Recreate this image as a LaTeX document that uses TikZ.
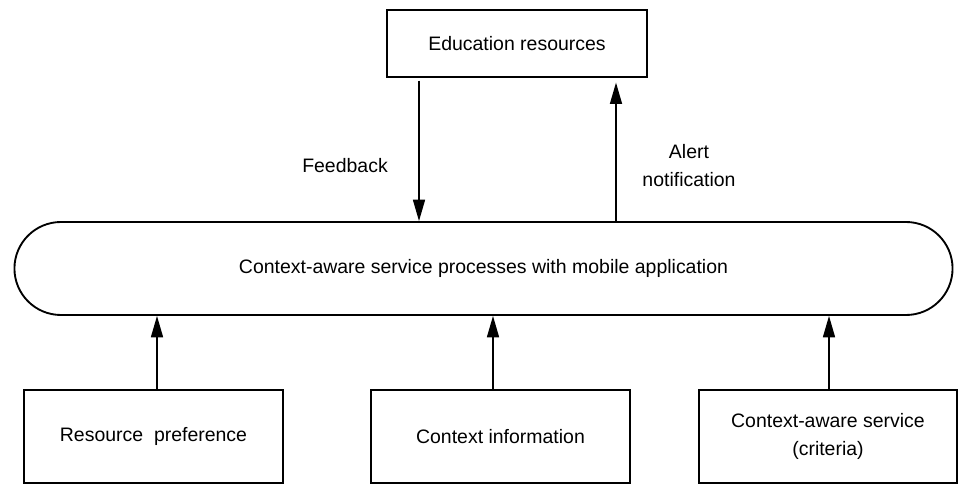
\documentclass[tikz,border=0pt]{standalone}
\usepackage{fontspec}
\setmainfont{Liberation Sans}
\usetikzlibrary{arrows.meta,shapes.misc}
\begin{document}
\begin{tikzpicture}[x=0.75pt,y=-0.75pt,
  every node/.style={font=\fontsize{14.6}{21}\selectfont},
  box/.style={draw,line width=1.4pt,inner sep=0pt,align=center,minimum width=194.25pt,minimum height=69.75pt},
  arr/.style={-{Triangle[length=16pt,width=9pt]},line width=1.1pt}]
\useasboundingbox (0,0) rectangle (958,484);
\node[box,minimum width=195pt,minimum height=50.25pt] (edu) at (517,43.5) {Education resources};
\node[draw,line width=1.4pt,rounded rectangle,minimum width=710.25pt,minimum height=69.75pt] (proc) at (483.5,268.5) {Context-aware service processes with mobile application};
\node[box] (pref) at (153.5,436.5) {Resource\ \ preference};
\node[box] (ctx) at (500.5,436.5) {Context information};
\node[box,minimum width=193.5pt] (crit) at (828,436.5) {Context-aware service\\(criteria)};
\node (fbl) at (345,166) {Feedback};
\node[align=center] (alt) at (689,166) {Alert\\notification};
\coordinate (fbx) at (419,0);
\coordinate (alx) at (616,0);
\coordinate (p1) at (157,0);
\coordinate (p2) at (493,0);
\coordinate (p3) at (829,0);
\draw[arr] ([yshift=-2pt]edu.south -| fbx) -- (proc.north -| fbx);
\draw[arr,shorten >=3.5pt] (proc.north -| alx) -- (edu.south -| alx);
\draw[arr] (pref.north -| p1) -- (proc.south -| p1);
\draw[arr] (ctx.north -| p2) -- (proc.south -| p2);
\draw[arr] (crit.north -| p3) -- (proc.south -| p3);
\end{tikzpicture}
\end{document}
